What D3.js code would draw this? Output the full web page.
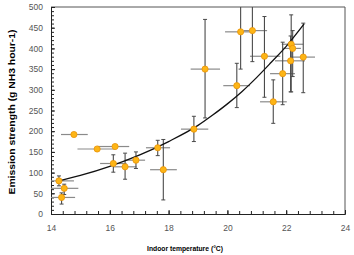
<!DOCTYPE html>
<html>
<head>
<meta charset="utf-8">
<script src="https://cdn.jsdelivr.net/npm/d3@7"></script>
<style>
  body { margin: 0; background: #fff; }
  text { font-family: "Liberation Sans", Arial, sans-serif; }
</style>
</head>
<body>
<div id="chart"></div>
<script>
// indoor temperature (°C) and emission (g NH3 / hour), with error ranges
const temp    = [14.27, 14.45, 14.36, 14.78, 15.57, 16.18, 16.12, 16.52, 16.89, 17.63, 17.82, 18.86, 19.24, 20.32, 20.45, 20.85, 21.26, 21.56, 21.88, 22.15, 22.17, 22.22, 22.58];
const tempLo  = [14.0, 14.0, 14.0, 14.34, 14.9, 15.6, 15.67, 16.12, 16.52, 17.23, 17.37, 18.42, 18.75, 19.86, 19.92, 20.55, 20.77, 21.11, 21.45, 21.62, 21.85, 21.9, 22.13];
const tempHi  = [14.78, 14.93, 14.82, 15.25, 16.2, 16.66, 16.57, 16.91, 17.2, 18.05, 18.28, 19.35, 19.75, 20.77, 20.88, 21.35, 21.8, 22.02, 22.3, 22.64, 22.58, 22.5, 22.98];
const emis    = [80, 62, 40, 192, 157, 163, 122, 114, 130, 160, 107, 205, 350, 310, 440, 443, 381, 271, 339, 370, 410, 400, 379];
const emisLo  = [68, 47, 24, 192, 157, 163, 101, 84, 110, 141, 34, 175, 232, 257, 350, 368, 282, 219, 264, 295, 295, 332, 293];
const emisHi  = [92, 72, 51, 192, 157, 163, 143, 147, 150, 178, 180, 236, 470, 364, 520, 520, 477, 324, 415, 430, 481, 443, 461];

// fitted trend line
const fitX = [14.28, 15, 16, 17, 18, 19, 19.5, 20, 20.5, 21, 21.5, 22, 22.61];
const fitY = [80, 93, 115, 142, 175, 214, 239, 266, 296, 330, 367, 405, 459];

const xTicks = [14, 16, 18, 20, 22, 24];
const yTicks = [0, 50, 100, 150, 200, 250, 300, 350, 400, 450, 500];

const width = 354;
const height = 255;
const margin = {top: 7, left: 51, right: 9, bottom: 41};

const svg = d3.select("#chart")
    .append("svg")
    .attr("width", width)
    .attr("height", height);

const xScale = d3.scaleLinear()
    .domain([14, 24])
    .range([margin.left, width - margin.right]);

const yScale = d3.scaleLinear()
    .domain([0, 500])
    .range([height - margin.bottom, margin.top]);

svg.append("clipPath").attr("id", "plot")
  .append("rect")
    .attr("x", margin.left).attr("y", margin.top)
    .attr("width", width - margin.left - margin.right)
    .attr("height", height - margin.top - margin.bottom);

// frame (top and right)
svg.append("path")
    .attr("d", `M${margin.left},${margin.top}H${width - margin.right}V${height - margin.bottom}`)
    .attr("fill", "none")
    .attr("stroke", "#555")
    .attr("stroke-width", 1);

// Axes: ticks point inward, minor ticks
const xAxis = svg.append("g")
    .attr("transform", `translate(0,${height - margin.bottom})`)
    .call(d3.axisBottom(xScale).tickValues(d3.range(14, 24.01, 0.4)).tickSize(-3).tickFormat("").tickSizeOuter(0));
xAxis.append("g")
    .call(d3.axisBottom(xScale).tickValues(xTicks).tickSize(-4).tickPadding(11).tickSizeOuter(0));

const yAxis = svg.append("g")
    .attr("transform", `translate(${margin.left},0)`)
    .call(d3.axisLeft(yScale).tickValues(d3.range(0, 501, 10)).tickSize(-3).tickFormat("").tickSizeOuter(0));
yAxis.append("g")
    .call(d3.axisLeft(yScale).tickValues(yTicks).tickSize(-4).tickPadding(8).tickSizeOuter(0));

svg.selectAll(".domain").attr("stroke", "#222");
svg.selectAll(".tick line").attr("stroke", "#222");
svg.selectAll(".tick text")
    .attr("fill", "#555")
    .style("font-size", "8.5px");

// Labels
svg.append("text")
    .attr("x", 185)
    .attr("y", 251)
    .attr("text-anchor", "middle")
    .attr("textLength", 76)
    .attr("lengthAdjust", "spacingAndGlyphs")
    .style("font-size", "7.5px")
    .style("font-weight", "bold")
    .text("Indoor temperature (°C)");

svg.append("text")
    .attr("transform", "translate(15,112) rotate(-90)")
    .attr("text-anchor", "middle")
    .attr("textLength", 165)
    .attr("lengthAdjust", "spacingAndGlyphs")
    .style("font-size", "8.5px")
    .style("font-weight", "bold")
    .text("Emission strength (g NH3 hour-1)");

const idx = d3.range(temp.length);
const marks = svg.append("g").attr("clip-path", "url(#plot)");

// horizontal error bars
marks.selectAll(".hbar")
    .data(idx)
    .enter()
    .append("line")
    .attr("class", "hbar")
    .attr("x1", function(i) { return xScale(tempLo[i]); })
    .attr("x2", function(i) { return xScale(tempHi[i]); })
    .attr("y1", function(i) { return yScale(emis[i]); })
    .attr("y2", function(i) { return yScale(emis[i]); })
    .attr("stroke", "#8a8a8a")
    .attr("stroke-width", 1.2);

// vertical error bars with small caps
const vbar = marks.selectAll(".vbar")
    .data(idx.filter(function(i) { return emisHi[i] > emisLo[i]; }))
    .enter()
    .append("g")
    .attr("class", "vbar");

vbar.append("line")
    .attr("x1", function(i) { return xScale(temp[i]); })
    .attr("x2", function(i) { return xScale(temp[i]); })
    .attr("y1", function(i) { return yScale(emisLo[i]); })
    .attr("y2", function(i) { return yScale(emisHi[i]); })
    .attr("stroke", "#4a4a4a")
    .attr("stroke-width", 1.1);

vbar.selectAll(".cap")
    .data(function(i) { return [[i, emisLo[i]], [i, emisHi[i]]]; })
    .enter()
    .append("line")
    .attr("x1", function(d) { return xScale(temp[d[0]]) - 2; })
    .attr("x2", function(d) { return xScale(temp[d[0]]) + 2; })
    .attr("y1", function(d) { return yScale(d[1]); })
    .attr("y2", function(d) { return yScale(d[1]); })
    .attr("stroke", "#4a4a4a")
    .attr("stroke-width", 1);

// fitted curve
const line = d3.line()
    .x(function(d) { return xScale(d[0]); })
    .y(function(d) { return yScale(d[1]); })
    .curve(d3.curveMonotoneX);

svg.append("path")
    .datum(d3.zip(fitX, fitY))
    .attr("d", line)
    .attr("fill", "none")
    .attr("stroke", "#111")
    .attr("stroke-width", 1.3);

// points
svg.selectAll("circle")
    .data(idx)
    .enter()
    .append("circle")
    .attr("cx", function(i) { return xScale(temp[i]); })
    .attr("cy", function(i) { return yScale(emis[i]); })
    .attr("r", 3.1)
    .attr("fill", "#fdb515")
    .attr("stroke", "#e8930a")
    .attr("stroke-width", 0.8);
</script>
</body>
</html>
